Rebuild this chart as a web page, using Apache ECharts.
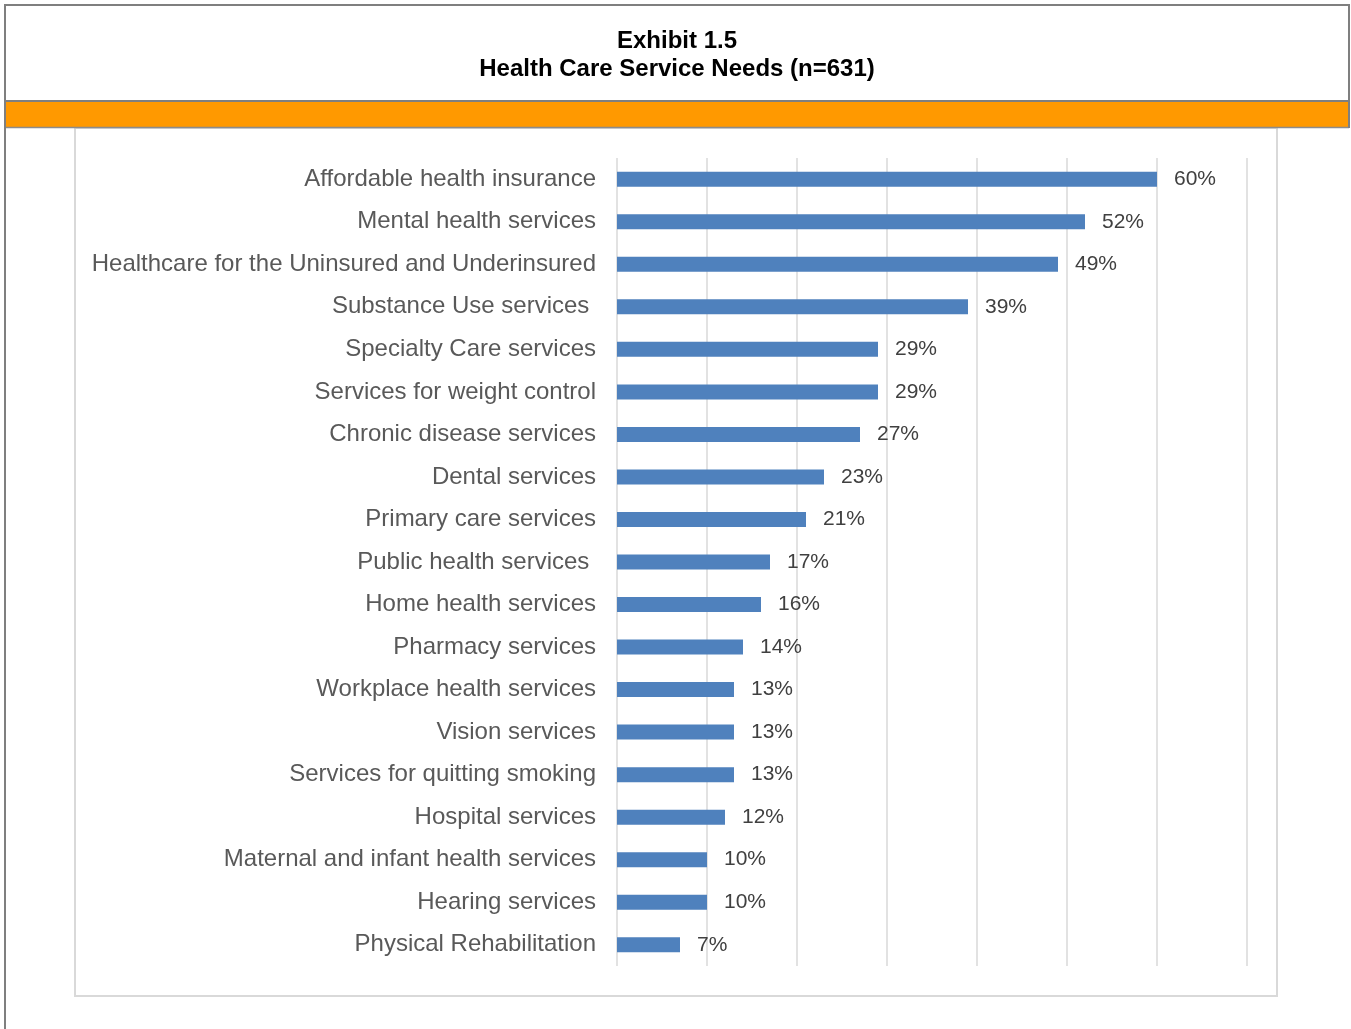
<!DOCTYPE html>
<html>
<head>
<meta charset="utf-8">
<title>Exhibit 1.5 – Health Care Service Needs</title>
<script src="https://cdn.jsdelivr.net/npm/echarts@6/dist/echarts.min.js"></script>
<style>
  html, body { margin: 0; padding: 0; background: #ffffff; }
  #chart { width: 1351px; height: 1029px; }
</style>
</head>
<body>
<div id="chart"></div>
<script>
// Survey responses: share of respondents naming each service as a need
const categories = [
  'Affordable health insurance',
  'Mental health services',
  'Healthcare for the Uninsured and Underinsured',
  'Substance Use services ',
  'Specialty Care services',
  'Services for weight control',
  'Chronic disease services',
  'Dental services',
  'Primary care services',
  'Public health services ',
  'Home health services',
  'Pharmacy services',
  'Workplace health services',
  'Vision services',
  'Services for quitting smoking',
  'Hospital services',
  'Maternal and infant health services',
  'Hearing services',
  'Physical Rehabilitation'
];
const percentValues = [60, 52, 49, 39, 29, 29, 27, 23, 21, 17, 16, 14, 13, 13, 13, 12, 10, 10, 7];
const axisMax = 70;
const axisStep = 10;
const titleLines = ['Exhibit 1.5', 'Health Care Service Needs (n=631)'];

const chart = echarts.init(document.getElementById('chart'), null, { renderer: 'canvas' });

const option = {
  backgroundColor: '#ffffff',
  animation: false,
  graphic: [
    // header box
    { type: 'rect', z: 0, silent: true,
      shape: { x: 5, y: 5, width: 1344, height: 96 },
      style: { fill: '#ffffff', stroke: '#7f7f7f', lineWidth: 2 } },
    { type: 'text', z: 2, silent: true,
      x: 677, y: 27.5,
      style: {
        text: titleLines.join('\n'),
        align: 'center',
        verticalAlign: 'top',
        font: 'bold 24px "Liberation Sans", Arial, sans-serif',
        lineHeight: 28,
        fill: '#000000'
      } },
    // orange band
    { type: 'rect', z: 0, silent: true,
      shape: { x: 5, y: 102, width: 1344, height: 25 },
      style: { fill: '#ff9900', stroke: null } },
    { type: 'line', z: 1, silent: true,
      shape: { x1: 5, y1: 127.5, x2: 1349, y2: 127.5 },
      style: { stroke: '#8c8c8c', lineWidth: 1.5 } },
    { type: 'line', z: 1, silent: true,
      shape: { x1: 5, y1: 5, x2: 5, y2: 1029 },
      style: { stroke: '#7f7f7f', lineWidth: 2 } },
    { type: 'line', z: 1, silent: true,
      shape: { x1: 1349, y1: 5, x2: 1349, y2: 128 },
      style: { stroke: '#7f7f7f', lineWidth: 2 } },
    // plot frame
    { type: 'rect', z: 0, silent: true,
      shape: { x: 75, y: 128, width: 1202, height: 868 },
      style: { fill: 'none', stroke: '#d9d9d9', lineWidth: 2 } }
  ],
  grid: {
    left: 617,
    right: 104,
    top: 158,
    bottom: 63,
    containLabel: false
  },
  xAxis: {
    type: 'value',
    min: 0,
    max: axisMax,
    interval: axisStep,
    axisLabel: { show: false },
    axisLine: { show: false },
    axisTick: { show: false },
    splitLine: { show: true, lineStyle: { color: '#d9d9d9', width: 1.5 } }
  },
  yAxis: {
    type: 'category',
    data: categories,
    inverse: true,
    axisLine: { show: false },
    axisTick: { show: false },
    axisLabel: {
      margin: 21,
      fontFamily: 'Liberation Sans, Arial, sans-serif',
      fontSize: 24,
      color: '#595959'
    }
  },
  series: [{
    type: 'bar',
    data: percentValues,
    barWidth: 15,
    itemStyle: { color: '#4f81bd' },
    label: {
      show: true,
      position: 'right',
      distance: 17,
      formatter: '{c}%',
      fontFamily: 'Liberation Sans, Arial, sans-serif',
      fontSize: 21,
      color: '#404040'
    }
  }]
};

chart.setOption(option);
</script>
</body>
</html>
